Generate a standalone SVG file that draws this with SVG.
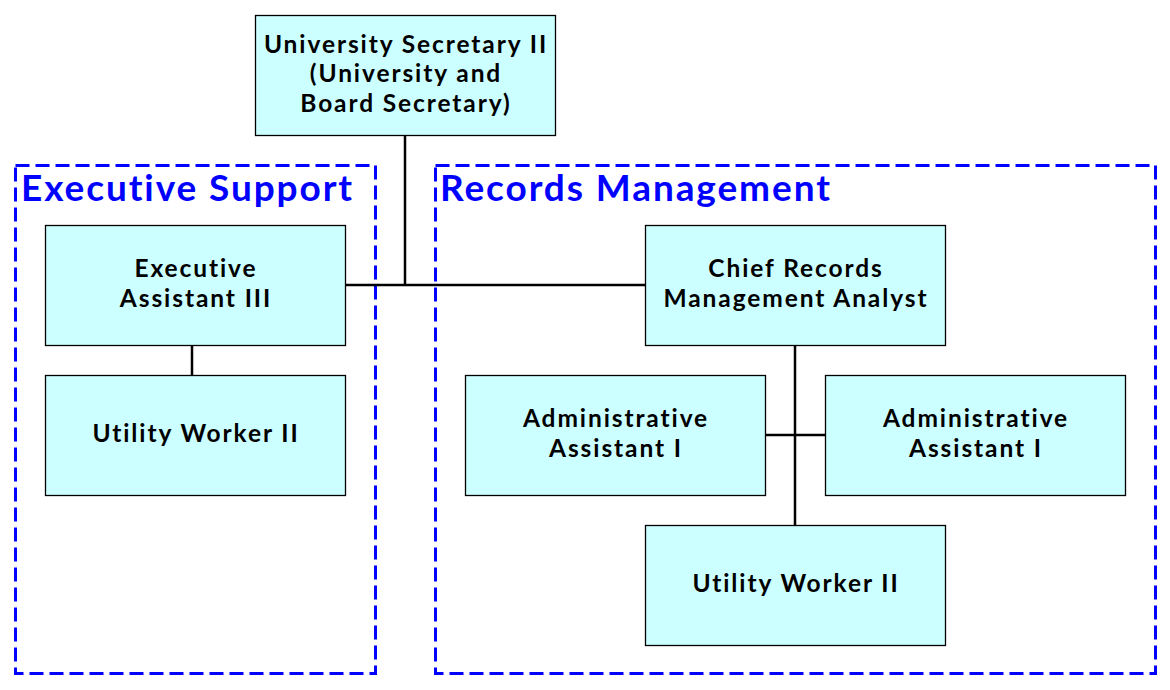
<svg xmlns="http://www.w3.org/2000/svg" width="1170" height="690" viewBox="0 0 1170 690">
<style>
.grp{fill:none;stroke:#0000ff;stroke-width:3;stroke-dasharray:14 6}
.gt{font-family:Lato,"Open Sans","Liberation Sans",sans-serif;font-weight:bold;font-size:37px;letter-spacing:1.9px;fill:#0000ff}
.box{fill:#ccffff;stroke:#000;stroke-width:1.3}
.t{font-family:Lato,"Open Sans","Liberation Sans",sans-serif;font-weight:bold;font-size:24.5px;letter-spacing:1.9px;fill:#000;text-anchor:middle}
.c{stroke:#000;stroke-width:2.5;fill:none}
</style>
<rect width="1170" height="690" fill="#fff"/>
<g id="group-executive-support">
<rect class="grp" x="15.5" y="165.5" width="360" height="508"/>
<text class="gt" x="21" y="201">Executive Support</text>
</g>
<g id="group-records-management">
<rect class="grp" x="435.5" y="165.5" width="720" height="508"/>
<text class="gt" x="440" y="201">Records Management</text>
</g>
<g id="connectors">
<path class="c" d="M405 135V285M345 285H645M192 345V375M795 345V525M765 435H825"/>
</g>
<g id="node-university-secretary">
<rect class="box" x="255.5" y="15.5" width="300" height="120"/>
<text class="t" x="406" y="52.5">University Secretary II</text>
<text class="t" x="406" y="82">(University and</text>
<text class="t" x="406" y="111.5">Board Secretary)</text>
</g>
<g id="node-executive-assistant">
<rect class="box" x="45.5" y="225.5" width="300" height="120"/>
<text class="t" x="196" y="277">Executive</text>
<text class="t" x="196" y="306.5">Assistant III</text>
</g>
<g id="node-utility-worker-es">
<rect class="box" x="45.5" y="375.5" width="300" height="120"/>
<text class="t" x="196" y="442">Utility Worker II</text>
</g>
<g id="node-chief-records">
<rect class="box" x="645.5" y="225.5" width="300" height="120"/>
<text class="t" x="796" y="277">Chief Records</text>
<text class="t" x="796" y="306.5">Management Analyst</text>
</g>
<g id="node-admin-assistant-1">
<rect class="box" x="465.5" y="375.5" width="300" height="120"/>
<text class="t" x="616" y="427">Administrative</text>
<text class="t" x="616" y="456.5">Assistant I</text>
</g>
<g id="node-admin-assistant-2">
<rect class="box" x="825.5" y="375.5" width="300" height="120"/>
<text class="t" x="976" y="427">Administrative</text>
<text class="t" x="976" y="456.5">Assistant I</text>
</g>
<g id="node-utility-worker-rm">
<rect class="box" x="645.5" y="525.5" width="300" height="120"/>
<text class="t" x="796" y="592">Utility Worker II</text>
</g>
</svg>
